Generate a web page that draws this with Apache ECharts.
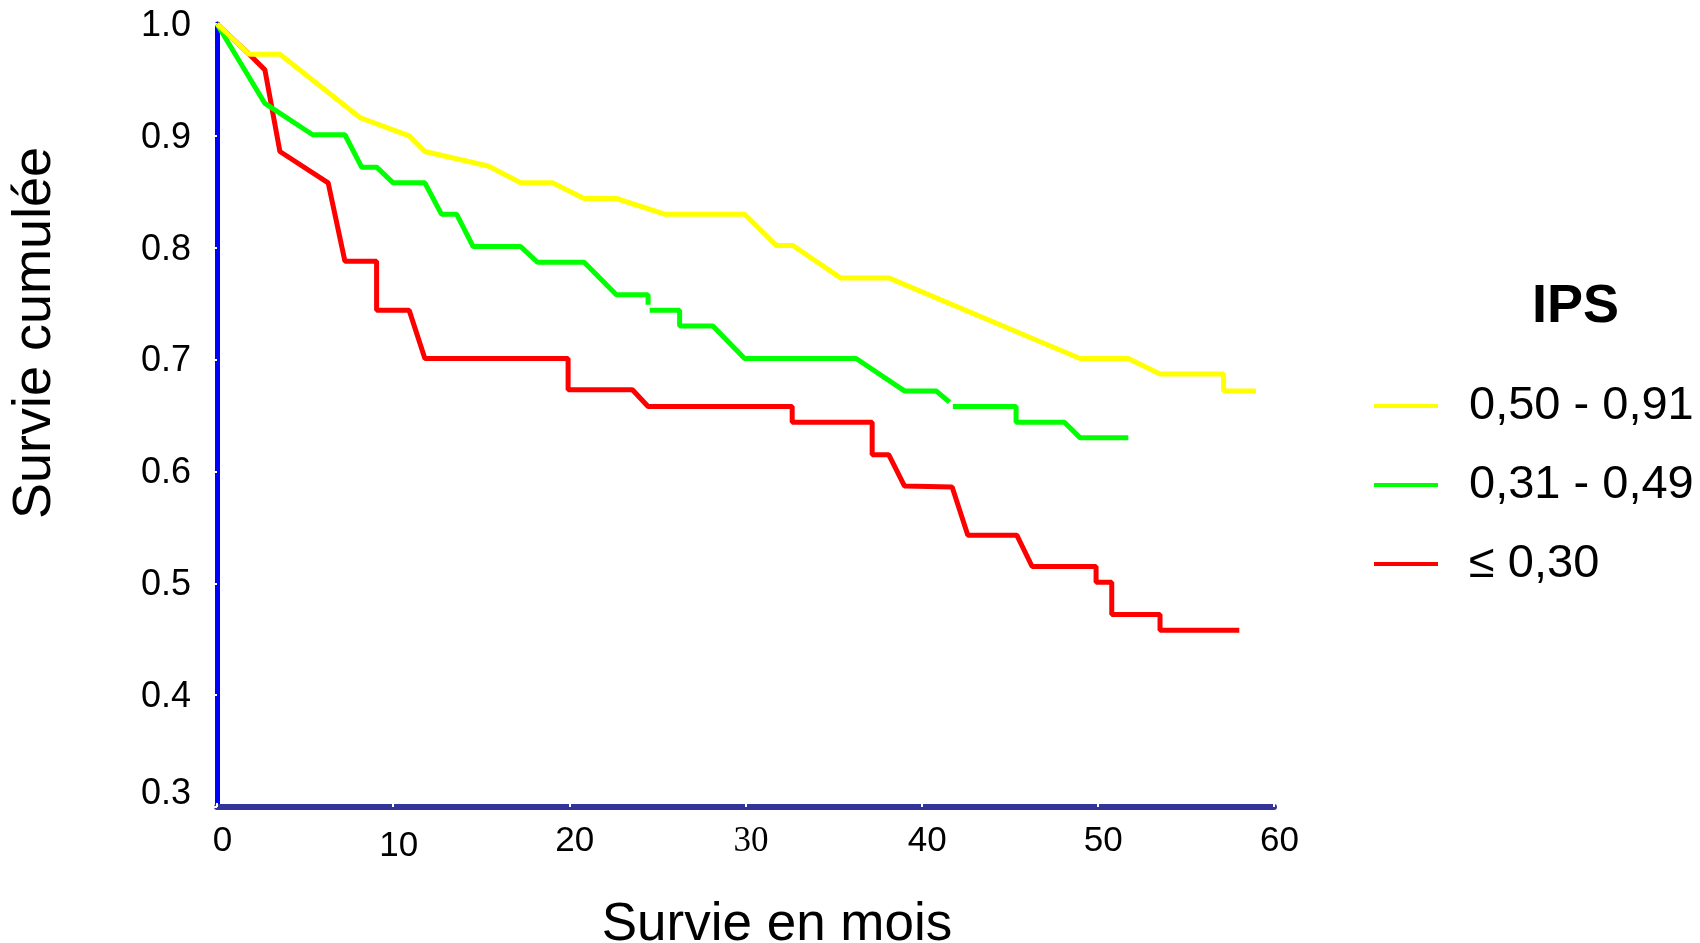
<!DOCTYPE html>
<html>
<head>
<meta charset="utf-8">
<script src="https://cdn.jsdelivr.net/npm/echarts@6/dist/echarts.min.js"></script>
<style>
html,body{margin:0;padding:0;background:#fff;}
#chart{width:1700px;height:943px;}
</style>
</head>
<body>
<div id="chart"></div>
<script>
// ---- data (months, cumulative survival) ----
var seriesNames = ['0,50 - 0,91', '0,31 - 0,49', '\u2264 0,30'];
var xTicks = [0, 10, 20, 30, 40, 50, 60];
var yTicks = [0.3, 0.4, 0.5, 0.6, 0.7, 0.8, 0.9, 1.0];

var yellowData = [
  [0,1.0],[1.83,0.973],[3.57,0.973],[8.15,0.916],[10.91,0.900],[11.8,0.886],
  [15.39,0.873],[17.24,0.858],[19.04,0.858],[20.84,0.844],[22.67,0.844],
  [25.41,0.830],[29.95,0.830],[31.75,0.802],[32.69,0.802],[35.39,0.773],
  [38.13,0.773],[48.99,0.701],[51.73,0.701],[53.53,0.687],[57.14,0.687],
  [57.14,0.672],[58.97,0.672]
];
var greenData = [
  [0,1.0],[2.72,0.929],[5.43,0.901],[7.26,0.901],[8.21,0.872],[9.06,0.872],
  [10.0,0.858],[11.8,0.858],[12.74,0.830],[13.6,0.830],[14.54,0.801],
  [17.24,0.801],[18.19,0.787],[20.84,0.787],[22.67,0.758],[24.47,0.758],
  [24.47,0.749],[24.5,'-'],[24.56,0.744],[26.26,0.744],[26.26,0.730],
  [28.15,0.730],[29.95,0.701],[36.28,0.701],[39.02,0.672],[40.82,0.672],
  [41.58,0.662],[41.65,'-'],[41.77,0.658],[45.36,0.658],[45.36,0.644],
  [48.1,0.644],[49.0,0.630],[51.73,0.630]
];
var redData = [
  [0,1.0],[1.83,0.973],[2.72,0.959],[3.57,0.886],[6.31,0.858],[7.26,0.788],
  [9.06,0.788],[9.06,0.744],[10.91,0.744],[11.8,0.701],[19.93,0.701],
  [19.93,0.673],[23.58,0.673],[24.47,0.658],[32.65,0.658],[32.65,0.644],
  [37.19,0.644],[37.19,0.615],[38.13,0.615],[39.02,0.587],[41.73,0.586],
  [42.62,0.543],[45.4,0.543],[46.27,0.515],[49.9,0.515],[49.9,0.501],
  [50.79,0.501],[50.79,0.472],[53.53,0.472],[53.53,0.458],[58.03,0.458]
];
var colors = ['#ffff00', '#00ff00', '#ff0000'];

var FONT = '"Liberation Sans", Arial, Helvetica, sans-serif';

var chart = echarts.init(document.getElementById('chart'), null, {renderer: 'canvas'});

var option = {
  backgroundColor: '#ffffff',
  animation: false,
  grid: {left: 217, top: 24, right: 426, bottom: 136, containLabel: false},
  xAxis: {
    type: 'value',
    min: xTicks[0], max: xTicks[xTicks.length - 1], interval: 10,
    splitLine: {show: false},
    axisLine: {show: true, onZero: false, lineStyle: {color: '#333399', width: 6}},
    axisTick: {show: true, inside: true, length: 4, lineStyle: {color: '#ffffff', width: 2}},
    axisLabel: {
      margin: 17,
      formatter: function (v) {
        if (v === 30) return '{s|30}';
        if (v === 10) return '{d|10}';
        return '{n|' + v + '}';
      },
      rich: {
        n: {fontFamily: FONT, fontSize: 35, color: '#000', padding: [0, 0, 0, 11]},
        d: {fontFamily: FONT, fontSize: 35, color: '#000', padding: [5, 0, 0, 11]},
        s: {fontFamily: '"Liberation Serif", "Times New Roman", serif', fontSize: 35, color: '#000', padding: [0, 0, 0, 11]}
      }
    }
  },
  yAxis: {
    type: 'value',
    min: yTicks[0], max: yTicks[yTicks.length - 1], interval: 0.1,
    splitLine: {show: false},
    axisLine: {show: true, onZero: false, lineStyle: {color: '#0000ff', width: 5}},
    axisTick: {show: true, inside: false, length: 3, lineStyle: {color: '#ffffff', width: 2}},
    axisLabel: {
      margin: 26,
      formatter: function (v) {
        var s = v.toFixed(1);
        return (Math.abs(v - yTicks[0]) < 1e-9) ? '{m|' + s + '}' : '{t|' + s + '}';
      },
      rich: {
        t: {fontFamily: FONT, fontSize: 36, color: '#000', padding: [4, 0, 0, 0]},
        m: {fontFamily: FONT, fontSize: 36, color: '#000', padding: [0, 0, 26, 0]}
      }
    }
  },
  legend: {
    orient: 'vertical',
    left: 1369, top: 376,
    data: seriesNames,
    icon: 'rect',
    itemWidth: 64, itemHeight: 4,
    itemGap: 29,
    textStyle: {fontFamily: FONT, fontSize: 47, color: '#000', lineHeight: 50, padding: [0, 0, 0, 26]}
  },
  graphic: [
    {type: 'text', left: 1532, top: 280, style: {text: 'IPS', fontFamily: FONT, fontSize: 54, fontWeight: 'bold', fill: '#000'}},
    {type: 'text', x: 35, y: 333, rotation: Math.PI / 2,
      style: {text: 'Survie cumulée', fontFamily: FONT, fontSize: 54, fill: '#000', textAlign: 'center', textVerticalAlign: 'middle'}},
    {type: 'text', x: 777, y: 925,
      style: {text: 'Survie en mois', fontFamily: FONT, fontSize: 53, fill: '#000', textAlign: 'center', textVerticalAlign: 'middle'}}
  ],
  series: [
    {name: seriesNames[0], type: 'line', data: yellowData, z: 5, showSymbol: false, symbol: 'none',
      connectNulls: false, lineStyle: {color: colors[0], width: 5}, itemStyle: {color: colors[0]}},
    {name: seriesNames[1], type: 'line', data: greenData, z: 4, showSymbol: false, symbol: 'none',
      connectNulls: false, lineStyle: {color: colors[1], width: 5}, itemStyle: {color: colors[1]}},
    {name: seriesNames[2], type: 'line', data: redData, z: 3, showSymbol: false, symbol: 'none',
      connectNulls: false, lineStyle: {color: colors[2], width: 5}, itemStyle: {color: colors[2]}}
  ]
};
chart.setOption(option);
</script>
</body>
</html>
